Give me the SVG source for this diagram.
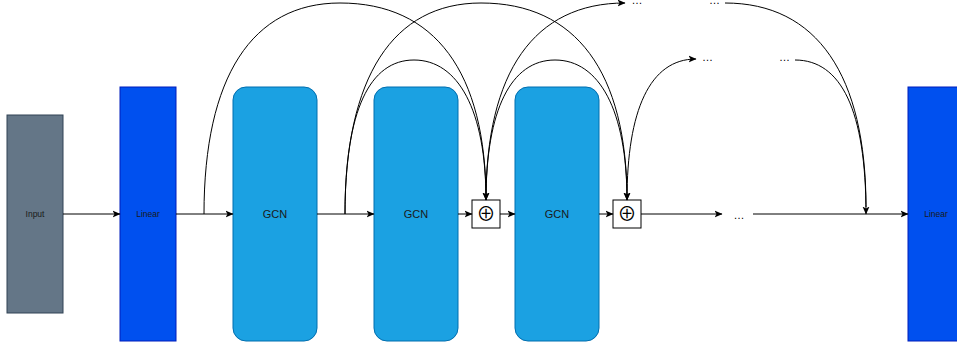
<svg xmlns="http://www.w3.org/2000/svg" width="957" height="347" viewBox="0 0 957 347">
  <style>
    .input { fill: #647687; stroke: #314354; stroke-width: 1; }
    .linear { fill: #0050ef; stroke: #001dbc; stroke-width: 1; }
    .gcn { fill: #1ba1e2; stroke: #006eaf; stroke-width: 1; }
    .sum { fill: #ffffff; stroke: #000000; stroke-width: 1; }
    .lbl { font-family: "Liberation Sans", Arial, sans-serif; fill: #1a1a1a; text-anchor: middle; }
    .small { font-size: 8.5px; }
    .big { font-size: 11px; }
    .dots { font-family: "Liberation Sans", Arial, sans-serif; font-size: 11px; fill: #000; text-anchor: middle; }
    .op { font-family: "Noto Sans CJK SC", "DejaVu Sans", sans-serif; font-size: 19px; fill: #000; text-anchor: middle; }
    .edge { fill: none; stroke: #000; stroke-width: 1; }
    .arr { marker-end: url(#head); }
  </style>
  <defs>
    <marker id="head" viewBox="0 0 8 8" refX="7.5" refY="4" markerWidth="8" markerHeight="8" orient="auto" markerUnits="userSpaceOnUse">
      <path d="M0,0.5 L8,4 L0,7.5 L2,4 Z" fill="#000"/>
    </marker>
  </defs>

  <!-- blocks -->
  <g id="input">
    <rect class="input" x="7" y="115" width="56" height="198"/>
    <text class="lbl small" x="35" y="217">Input</text>
  </g>
  <g id="linear-in">
    <rect class="linear" x="120" y="87" width="56" height="254"/>
    <text class="lbl small" x="148" y="217">Linear</text>
  </g>
  <g id="gcn-1">
    <rect class="gcn" x="233" y="87" width="84" height="254" rx="13" ry="13"/>
    <text class="lbl big" x="275" y="218">GCN</text>
  </g>
  <g id="gcn-2">
    <rect class="gcn" x="374" y="87" width="84" height="254" rx="13" ry="13"/>
    <text class="lbl big" x="416" y="218">GCN</text>
  </g>
  <g id="sum-1">
    <rect class="sum" x="472" y="200" width="28" height="28"/>
    <text class="op" x="486" y="221">⊕</text>
  </g>
  <g id="gcn-3">
    <rect class="gcn" x="515" y="87" width="84" height="254" rx="13" ry="13"/>
    <text class="lbl big" x="557" y="218">GCN</text>
  </g>
  <g id="sum-2">
    <rect class="sum" x="613" y="200" width="28" height="28"/>
    <text class="op" x="627" y="221">⊕</text>
  </g>
  <g id="linear-out">
    <rect class="linear" x="908" y="87" width="56" height="254"/>
    <text class="lbl small" x="936" y="217">Linear</text>
  </g>

  <!-- ellipsis placeholders -->
  <g id="more">
    <text class="dots" x="637" y="4">…</text>
    <text class="dots" x="714.5" y="4">…</text>
    <text class="dots" x="707.5" y="61">…</text>
    <text class="dots" x="784.5" y="61">…</text>
    <text class="dots" x="739" y="219">…</text>
  </g>

  <!-- connectors -->
  <g id="connectors">
    <path class="edge arr" d="M63,214 H120"/>
    <path class="edge arr" d="M176,214 H233"/>
    <path class="edge arr" d="M317,214 H374"/>
    <path class="edge arr" d="M458,214 H472"/>
    <path class="edge arr" d="M500,214 H515"/>
    <path class="edge arr" d="M599,214 H613"/>
    <path class="edge arr" d="M641,214 H722"/>
    <path class="edge arr" d="M753,214 H908"/>

    <!-- skip links -->
    <path class="edge arr" d="M204,214 C204,77 252,3 340,3 C435,3 486,72 486,200"/>
    <path class="edge arr" d="M345,214 C345,77 393,3 481,3 C576,3 627,72 627,200"/>
    <path class="edge arr" d="M345,214 C345,110 370,60 414,60 C458,60 486,110 486,200"/>
    <path class="edge arr" d="M486,200 C486,110 511,60 555,60 C599,60 627,110 627,200"/>
    <path class="edge arr" d="M486,200 C486,72 534,3 625,3"/>
    <path class="edge arr" d="M627,200 C627,110 650,59 696,59"/>
    <path class="edge" d="M725,3 C817,3 866,75 866,207"/>
    <path class="edge arr" d="M795,60 C841,60 866,110 866,214"/>
  </g>
</svg>
